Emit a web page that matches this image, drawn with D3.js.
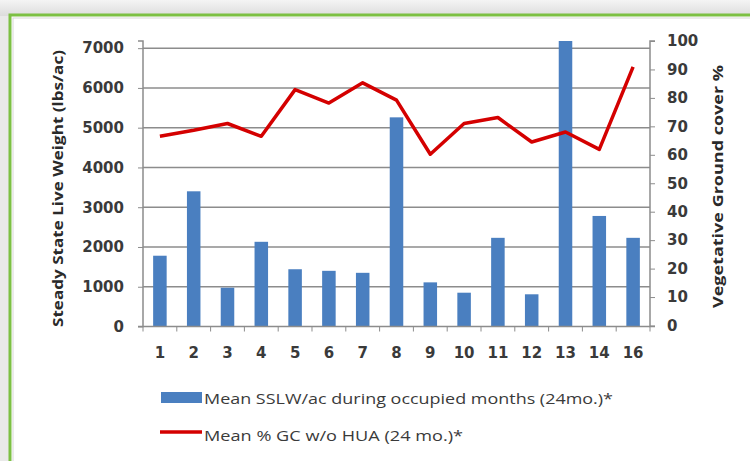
<!DOCTYPE html>
<html>
<head>
<meta charset="utf-8">
<script src="https://cdn.jsdelivr.net/npm/d3@7"></script>
<style>
  html, body { margin: 0; padding: 0; background: #e9e9e9; }
  svg { display: block; font-family: "Open Sans", "DejaVu Sans", sans-serif; }
  .tick text { fill: #3a3a3a; font-size: 15px; font-weight: bold; font-family: "DejaVu Sans", sans-serif; }
</style>
</head>
<body>
<svg id="chart" width="750" height="461"></svg>
<script>
// chart data
var categories = ["1","2","3","4","5","6","7","8","9","10","11","12","13","14","16"];
var sslw = [1780, 3400, 975, 2130, 1440, 1400, 1350, 5260, 1110, 850, 2230, 810, 7180, 2780, 2230];
var groundCover = [66.5, 68.6, 71, 66.5, 82.9, 78.2, 85.3, 79.2, 60.2, 71, 73.1, 64.5, 68, 61.9, 90.9];
var leftTicks = [0, 1000, 2000, 3000, 4000, 5000, 6000, 7000];
var rightTicks = [0, 10, 20, 30, 40, 50, 60, 70, 80, 90, 100];
var barLabel = "Mean SSLW/ac during occupied months  (24mo.)*";
var lineLabel = "Mean % GC w/o HUA  (24 mo.)*";

var svg = d3.select("#chart");

// frame
var bg = svg.append("defs").append("linearGradient")
    .attr("id","bgGrad").attr("x1",0).attr("y1",0).attr("x2",0).attr("y2",1);
bg.append("stop").attr("offset","0%").attr("stop-color","#f4f4f4");
bg.append("stop").attr("offset","100%").attr("stop-color","#dcdcdc");
svg.append("rect").attr("width",750).attr("height",16).attr("fill","url(#bgGrad)");
svg.append("rect").attr("x",10).attr("y",15).attr("width",760).attr("height",480)
    .attr("fill","#fff").attr("stroke","#7cc043").attr("stroke-width",3);
svg.append("rect").attr("x",13).attr("y",18).attr("width",760).attr("height",480)
    .attr("fill","none").attr("stroke","#d8d8d8").attr("stroke-width",1);

var m = {left: 143, right: 650, top: 41, bottom: 326.5};

var x = d3.scaleBand().domain(categories).range([m.left, m.right]).paddingInner(0.6).paddingOuter(0.3);
var yL = d3.scaleLinear().domain([0, 7180]).range([m.bottom, m.top]);
var yR = d3.scaleLinear().domain([0, 100]).range([m.bottom - 1, m.top]);

// gridlines
svg.append("g").selectAll("line").data(leftTicks.slice(1)).enter().append("line")
    .attr("x1", m.left).attr("x2", m.right)
    .attr("y1", function(d){ return yL(d); }).attr("y2", function(d){ return yL(d); })
    .attr("stroke","#8c8c8c").attr("stroke-width",1.5);

// bars
svg.append("g").selectAll("rect").data(sslw).enter().append("rect")
    .attr("x", function(d,i){ return x(categories[i]); })
    .attr("width", x.bandwidth())
    .attr("y", function(d){ return yL(d); })
    .attr("height", function(d){ return yL(0) - yL(d); })
    .attr("fill","#4a7fc0");

// axes
var axL = svg.append("g").attr("transform","translate(" + m.left + ",0)")
    .call(d3.axisLeft(yL).tickValues(leftTicks).tickSize(5).tickPadding(14).tickFormat(d3.format("d")));
var axR = svg.append("g").attr("transform","translate(" + m.right + ",0)")
    .call(d3.axisRight(yR).tickValues(rightTicks).tickSize(5).tickPadding(12).tickFormat(d3.format("d")));
var band = x.step();
var axB = svg.append("g").attr("transform","translate(0," + m.bottom + ")")
    .call(d3.axisBottom(x).tickSize(0).tickPadding(21));
axB.selectAll(".tick").each(function(d,i){
  d3.select(this).append("line").attr("x1", -band/2).attr("x2", -band/2).attr("y1",0).attr("y2",5)
      .attr("stroke","#8c8c8c");
});
axB.append("line").attr("x1", m.right).attr("x2", m.right).attr("y1",0).attr("y2",5).attr("stroke","#8c8c8c");
[axL, axR, axB].forEach(function(a){
  a.select(".domain").attr("stroke","#8c8c8c").attr("stroke-width",1.5);
  a.selectAll(".tick line").attr("stroke","#8c8c8c");
});
axL.select(".domain").attr("d","M-5," + m.top + "H0V" + m.bottom + "H-5");
axR.select(".domain").attr("d","M5," + m.top + "H0V" + m.bottom + "H5");
axB.select(".domain").attr("d","M" + m.left + ",0H" + m.right);

// line
var line = d3.line()
    .x(function(d,i){ return x(categories[i]) + x.bandwidth()/2; })
    .y(function(d){ return yR(d); });
svg.append("path").datum(groundCover).attr("d", line)
    .attr("fill","none").attr("stroke","#d40000").attr("stroke-width",3.5)
    .attr("stroke-linejoin","round");

// axis titles
svg.append("text").attr("transform","translate(63,188.5) rotate(-90)")
    .attr("text-anchor","middle").attr("font-size",14).attr("font-weight","bold").attr("fill","#2a2a2a")
    .attr("textLength",277).attr("lengthAdjust","spacingAndGlyphs")
    .text("Steady State Live Weight  (lbs/ac)");
svg.append("text").attr("transform","translate(723,186.5) rotate(-90)")
    .attr("text-anchor","middle").attr("font-size",14).attr("font-weight","bold").attr("fill","#2a2a2a")
    .attr("textLength",243).attr("lengthAdjust","spacingAndGlyphs")
    .text("Vegetative Ground cover %");

// legend
var lg = svg.append("g").attr("font-size",15).attr("fill","#3a3a3a");
lg.append("rect").attr("x",161).attr("y",392).attr("width",41).attr("height",11).attr("fill","#4a7fc0");
lg.append("text").attr("x",204).attr("y",404)
    .attr("textLength",409).attr("lengthAdjust","spacingAndGlyphs").text(barLabel);
lg.append("line").attr("x1",160).attr("x2",202).attr("y1",432).attr("y2",432)
    .attr("stroke","#d40000").attr("stroke-width",3.5);
lg.append("text").attr("x",204).attr("y",441)
    .attr("textLength",259).attr("lengthAdjust","spacingAndGlyphs").text(lineLabel);
</script>
</body>
</html>
